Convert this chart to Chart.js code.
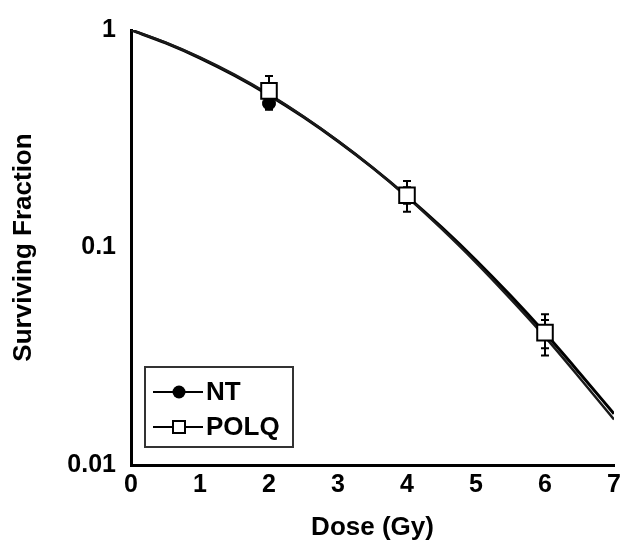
<!DOCTYPE html>
<html>
<head>
<meta charset="utf-8">
<script src="https://cdn.jsdelivr.net/npm/chart.js@4.4.0/dist/chart.umd.min.js"></script>
<style>
  body { margin: 0; background: #fff; }
  #wrap { width: 628px; height: 543px; }
</style>
</head>
<body>
<div id="wrap"><canvas id="myChart" width="628" height="543"></canvas></div>
<script>
// fitted curves, every 0.5 Gy
var doses = [0, 0.5, 1, 1.5, 2, 2.5, 3, 3.5, 4, 4.5, 5, 5.5, 6, 6.5, 7];
var ntCurve = [1, 0.872, 0.743, 0.618, 0.502, 0.398, 0.308, 0.233, 0.172, 0.124, 0.0874, 0.0601, 0.0404, 0.0265, 0.0172];
var polqCurve = [1, 0.876, 0.748, 0.623, 0.506, 0.400, 0.309, 0.233, 0.171, 0.122, 0.0852, 0.0580, 0.0388, 0.0252, 0.0162];

// measured points
var pointDoses = [2, 4, 6];
var ntPoints = [0.46, 0.174, 0.0404];
var ntErr = [0.03, 0.015, 0.006];
var polqPoints = [0.525, 0.174, 0.0406];
var polqErr = [0.09, 0.028, 0.0087];

var yTicks = [1, 0.1, 0.01];
var xTicks = [0, 1, 2, 3, 4, 5, 6, 7];

function xy(xs, ys) {
    return xs.map(function (x, i) { return { x: x, y: ys[i] }; });
}

var errorBars = {
    id: 'errorBars',
    beforeDatasetsDraw: function (chart) {
        var ctx = chart.ctx, xs = chart.scales.x, ys = chart.scales.y;
        ctx.save();
        ctx.strokeStyle = '#000';
        ctx.lineWidth = 2;
        [[ntPoints, ntErr], [polqPoints, polqErr]].forEach(function (s) {
            pointDoses.forEach(function (d, i) {
                var px = xs.getPixelForValue(d);
                var top = ys.getPixelForValue(s[0][i] + s[1][i]);
                var bot = ys.getPixelForValue(s[0][i] - s[1][i]);
                ctx.beginPath();
                ctx.moveTo(px, top); ctx.lineTo(px, bot);
                ctx.moveTo(px - 4, top); ctx.lineTo(px + 4, top);
                ctx.moveTo(px - 4, bot); ctx.lineTo(px + 4, bot);
                ctx.stroke();
            });
        });
        ctx.restore();
    }
};

var boxLegend = {
    id: 'boxLegend',
    afterDraw: function (chart) {
        var ctx = chart.ctx;
        ctx.save();
        ctx.strokeStyle = '#333';
        ctx.lineWidth = 2;
        ctx.strokeRect(145, 367, 148, 80);
        ctx.font = 'bold 26px "Liberation Sans", Arial, sans-serif';
        ctx.textBaseline = 'middle';
        ctx.fillStyle = '#000';
        [['NT', 392, 'circle'], ['POLQ', 427, 'rect']].forEach(function (e) {
            ctx.strokeStyle = '#000';
            ctx.lineWidth = 2;
            ctx.beginPath();
            ctx.moveTo(153, e[1]); ctx.lineTo(203, e[1]);
            ctx.stroke();
            ctx.beginPath();
            if (e[2] === 'circle') {
                ctx.arc(179, e[1], 6.5, 0, Math.PI * 2);
                ctx.fill();
            } else {
                ctx.fillStyle = '#fff';
                ctx.fillRect(173, e[1] - 6, 12, 12);
                ctx.strokeRect(173, e[1] - 6, 12, 12);
                ctx.fillStyle = '#000';
            }
            ctx.fillText(e[0], 206, e[1] + 1);
        });
        ctx.restore();
    }
};

Chart.defaults.font.family = '"Liberation Sans", Arial, sans-serif';
Chart.defaults.color = '#000';

var ctx = document.getElementById('myChart').getContext('2d');
var myChart = new Chart(ctx, {
    type: 'scatter',
    data: {
        datasets: [{
            label: 'NT fit',
            data: xy(doses, ntCurve),
            showLine: true,
            borderColor: '#000',
            borderWidth: 3,
            pointRadius: 0,
            tension: 0.4,
            cubicInterpolationMode: 'monotone',
            order: 3
        }, {
            label: 'POLQ fit',
            data: xy(doses, polqCurve),
            showLine: true,
            borderColor: '#1a1a1a',
            borderWidth: 2.5,
            pointRadius: 0,
            tension: 0.4,
            cubicInterpolationMode: 'monotone',
            order: 2
        }, {
            label: 'NT',
            data: xy(pointDoses, ntPoints),
            pointStyle: 'circle',
            pointRadius: 6.5,
            backgroundColor: '#000',
            borderColor: '#000',
            order: 1
        }, {
            label: 'POLQ',
            data: xy(pointDoses, polqPoints),
            pointStyle: 'rect',
            pointRadius: 11,
            backgroundColor: '#fff',
            borderColor: '#000',
            borderWidth: 2,
            order: 0
        }]
    },
    options: {
        responsive: false,
        animation: false,
        layout: { padding: { top: 27, right: 14, left: 0, bottom: 0 } },
        plugins: {
            legend: { display: false },
            tooltip: { enabled: false }
        },
        scales: {
            x: {
                type: 'linear',
                min: 0,
                max: 7,
                afterBuildTicks: function (s) { s.ticks = xTicks.map(function (v) { return { value: v }; }); },
                grid: { display: false, drawTicks: false },
                border: { color: '#000', width: 3 },
                ticks: { font: { size: 25, weight: 'bold' }, padding: 5, maxRotation: 0 },
                title: { display: true, text: 'Dose (Gy)', font: { size: 26, weight: 'bold' }, padding: { top: 0, bottom: 0 } },
                afterFit: function (s) { s.height = 78; }
            },
            y: {
                type: 'logarithmic',
                min: 0.01,
                max: 1,
                afterBuildTicks: function (s) { s.ticks = yTicks.map(function (v) { return { value: v }; }); },
                grid: { display: false, drawTicks: false },
                border: { color: '#000', width: 3 },
                ticks: {
                    font: { size: 25, weight: 'bold' },
                    padding: 15,
                    callback: function (v) { return String(v); }
                },
                title: { display: true, text: 'Surviving Fraction', font: { size: 26, weight: 'bold' }, padding: { top: 8, bottom: 0 } },
                afterFit: function (s) { s.width = 131; }
            }
        }
    },
    plugins: [errorBars, boxLegend]
});
</script>
</body>
</html>
